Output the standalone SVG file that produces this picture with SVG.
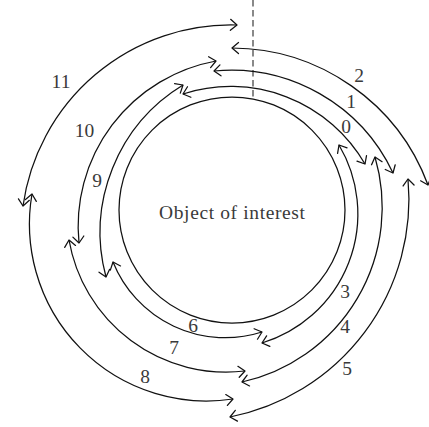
<svg xmlns="http://www.w3.org/2000/svg" width="429" height="427" viewBox="0 0 429 427">
<style>
.arc{fill:none;stroke:#111;stroke-width:1.25;marker-start:url(#ah);marker-end:url(#ah)}
.lbl{font-family:"Liberation Serif","Times New Roman",serif;font-size:19.5px;fill:#3a3a3a;text-anchor:middle}
</style>
<defs>
<marker id="ah" viewBox="-10 -10 20 20" refX="0" refY="0" markerWidth="20" markerHeight="20" markerUnits="userSpaceOnUse" orient="auto-start-reverse">
<path d="M-6.5,-5.5 L0,0 L-6.5,5.5" fill="none" stroke="#111" stroke-width="1.25" stroke-linejoin="round" stroke-linecap="round"/>
</marker>
</defs>
<rect width="429" height="427" fill="#fff"/>
<g id="boundary">
<line x1="253" y1="0" x2="253" y2="98" stroke="#444" stroke-width="1.25" stroke-dasharray="6.5 3.5"/>
</g>
<g id="object">
<circle cx="232" cy="210" r="113" fill="none" stroke="#111" stroke-width="1.25"/>
<text class="lbl" x="232" y="219" font-size="20" textLength="146">Object of interest</text>
</g>
<g id="connectors">
<path id="a0" class="arc" d="M183,94 A155,155 0 0 1 365,164"/>
<path id="a1" class="arc" d="M214,71 A179,179 0 0 1 393,173"/>
<path id="a2" class="arc" d="M232,48 A210,210 0 0 1 428,185"/>
<path id="a3" class="arc" d="M339,145 A135,135 0 0 1 262,343"/>
<path id="a4" class="arc" d="M375,157 A179,179 0 0 1 242,382"/>
<path id="a5" class="arc" d="M408,179 A222,222 0 0 1 230,417"/>
<path id="a6" class="arc" d="M113,262 A121,121 0 0 0 262,332"/>
<path id="a7" class="arc" d="M69,240 A159.5,159.5 0 0 0 245,371"/>
<path id="a8" class="arc" d="M32,194 A177,177 0 0 0 233,399"/>
<path id="a9" class="arc" d="M106,277 A172.5,172.5 0 0 1 183,85"/>
<path id="a10" class="arc" d="M79,243 A168,168 0 0 1 216,61"/>
<path id="a11" class="arc" d="M23,206 A210,210 0 0 1 237,25"/>
</g>
<g id="labels">
<text class="lbl" x="346" y="133">0</text>
<text class="lbl" x="351" y="108">1</text>
<text class="lbl" x="359" y="82">2</text>
<text class="lbl" x="345" y="298">3</text>
<text class="lbl" x="345" y="333">4</text>
<text class="lbl" x="347" y="375">5</text>
<text class="lbl" x="193" y="332">6</text>
<text class="lbl" x="174" y="354">7</text>
<text class="lbl" x="145" y="383">8</text>
<text class="lbl" x="97" y="187">9</text>
<text class="lbl" x="84.5" y="137">10</text>
<text class="lbl" x="61" y="88">11</text>
</g>
</svg>
